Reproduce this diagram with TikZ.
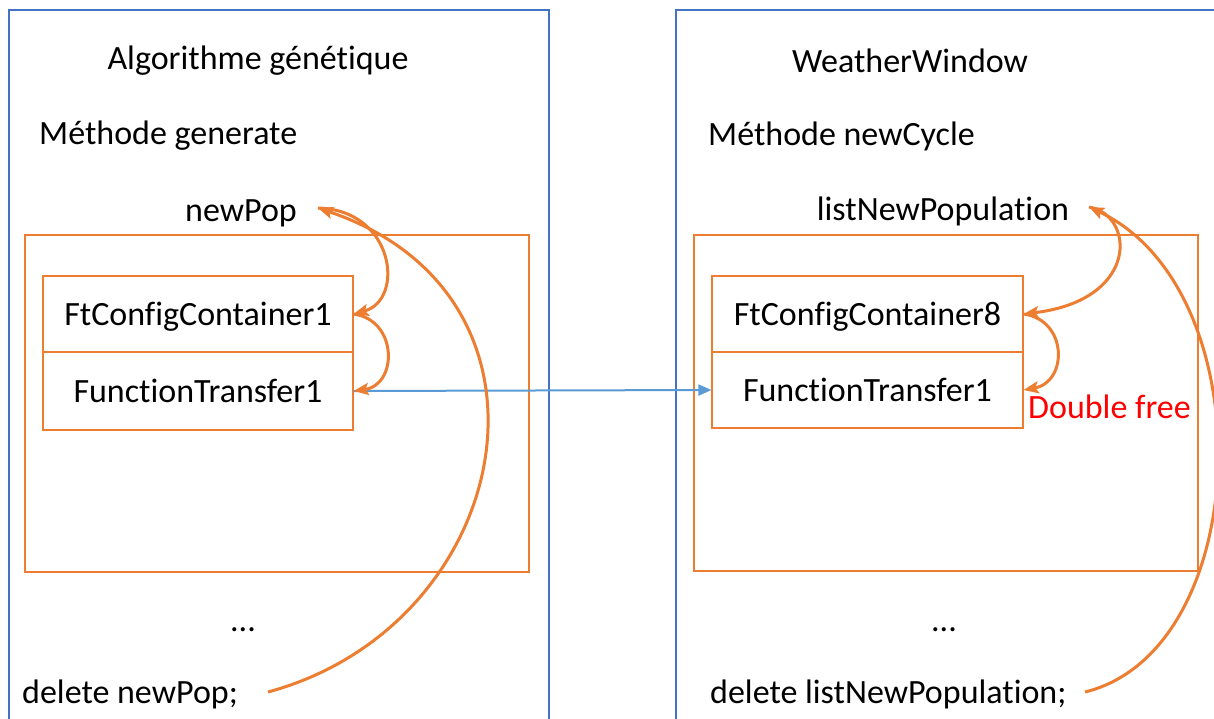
\documentclass[tikz,border=0pt]{standalone}
\usepackage{fontspec}
\setmainfont{Carlito}[Ligatures=NoCommon]
\usetikzlibrary{arrows.meta}
\definecolor{frameblue}{HTML}{4472C4}
\definecolor{linkblue}{HTML}{5B9BD5}
\definecolor{ptrorange}{HTML}{ED7D31}
\definecolor{alertred}{HTML}{FF0000}
\tikzset{
  txt/.style={inner sep=0pt, yshift=-3pt, font=\fontsize{34}{40}\selectfont},
  membox/.style={draw=ptrorange, line width=1.1pt, minimum width=310pt, inner sep=0pt,
    text depth=0pt, font=\fontsize{34}{40}\selectfont},
  frame/.style={draw=frameblue, line width=1.1pt},
  heap/.style={draw=ptrorange, line width=1.1pt},
  ptr/.style={draw=ptrorange, line width=3pt, -{Stealth[length=15pt,width=12pt,inset=3pt]}},
  link/.style={draw=linkblue, line width=2pt, -{Triangle[length=13pt,width=11pt]}}
}
\begin{document}
\begin{tikzpicture}[x=1pt,y=-1pt]
\useasboundingbox (0,0) rectangle (1214,718);
\clip (0,0) rectangle (1214,718);
\fill[white] (0,0) rectangle (1214,718);

% class frames, open below
\draw[frame] (9,740) -- (9,10) -- (549,10) -- (549,740);
\draw[frame] (676,740) -- (676,10) -- (1240,10) -- (1240,740);

% heap areas
\draw[heap] (25,235) rectangle (529,572);
\draw[heap] (694,235) rectangle (1198,571);

% left column: genetic algorithm
\node[txt] (titleL) at (258,58) {Algorithme génétique};
\node[txt, anchor=west] (methL) at (39,133) {Méthode generate};
\node[txt] (np) at (241,210) {newPop};
\node[membox, minimum height=76pt] (c1) at (198,314) {FtConfigContainer1};
\node[membox, minimum height=78pt] (ft1) at (198,391) {FunctionTransfer1};
\node[txt] (dotsL) at (243,627) {...};
\node[txt, anchor=west] (delL) at (22,691) {delete newPop;};

% right column: weather window
\node[txt] (titleR) at (910,58) {WeatherWindow};
\node[txt, anchor=west] (methR) at (708,133) {Méthode newCycle};
\node[txt] (lnp) at (943,208) {listNewPopulation};
\node[membox, minimum height=76pt, minimum width=311pt] (c8) at (867.5,314) {FtConfigContainer8};
\node[membox, minimum height=76pt, minimum width=311pt] (ft8) at (867.5,390) {FunctionTransfer1};
\node[txt] (dotsR) at (944,627) {...};
\node[txt, anchor=west] (delR) at (710,691) {delete listNewPopulation;};
\node[txt, anchor=west, text=alertred] (dbl) at (1028,404) {Double free};

% shared function transfer
\draw[link] (ft1.east) -- (ft8.west);

% pointer chains, left
\coordinate (npTip) at (318,208);
\coordinate (delLs) at (268,692);
\draw[ptr] (npTip) .. controls (395,210) and (405,300) .. (c1.east);
\draw[ptr] (c1.east) .. controls (398,320) and (398,385) .. (ft1.east);
\draw[ptr] (delLs) .. controls (515,625) and (580,296) .. (npTip);

% pointer chains, right
\coordinate (lnpTip) at (1089,207);
\coordinate (delRs) at (1085,692);
\draw[ptr] (lnpTip) .. controls (1135,215) and (1140,300) .. (c8.east);
\draw[ptr] (c8.east) .. controls (1068,320) and (1068,382) .. (ft8.east);
\draw[ptr] (delRs) .. controls (1255,650) and (1265,290) .. (lnpTip);
\end{tikzpicture}
\end{document}
